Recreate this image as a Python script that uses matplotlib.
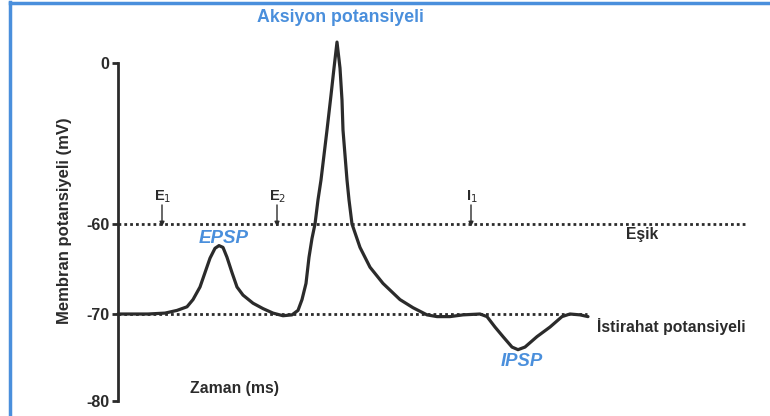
import numpy as np
import matplotlib
matplotlib.use("Agg")
from matplotlib import pyplot as plt
from matplotlib.lines import Line2D

# time (arbitrary units) and membrane potential (mV)
zaman = [0, 30, 47, 59, 69, 75, 82, 87, 92, 97, 101, 105, 109, 114, 119, 125,
         135, 145, 155, 165, 174, 180, 184, 188, 191, 194, 197, 200, 203, 206,
         209, 213, 216, 219, 222, 224, 225, 227, 229, 231, 234, 242, 252, 265,
         282, 295, 309, 319, 332, 345, 362, 369, 377, 385, 394, 400, 407, 419,
         432, 444, 452, 462, 470]
potansiyel = [-70, -70, -69.9, -69.6, -69.2, -68.4, -67.0, -65.4, -63.8, -62.7,
              -62.4, -62.6, -63.7, -65.4, -67.0, -67.9, -68.8, -69.4, -69.9,
              -70.2, -70.1, -69.6, -68.4, -66.6, -63.7, -61.6, -60, -51, -43.6,
              -34.3, -25, -12, -1.9, 7.8, -1.9, -13.8, -25, -34.3, -43.6, -51,
              -60, -62.6, -64.8, -66.6, -68.4, -69.3, -70.1, -70.3, -70.3, -70.1,
              -70.0, -70.3, -71.5, -72.6, -73.8, -74.1, -73.8, -72.6, -71.5,
              -70.3, -70.0, -70.1, -70.3]

yticks = [0, -60, -70, -80]
esik = -60
istirahat = -70
uyaranlar = ["E$_1$", "E$_2$", "I$_1$"]
uyaran_zaman = [44, 159, 353]

BLUE = "#4a8fdc"
DARK = "#2b2b2b"

# non-linear y scale (pixel rows of the original axis)
V_PTS = [-80, -70, -60, 0]
P_PTS = [-401, -314, -224, -63]
S_LO = 87 / 10
S_HI = 161 / 60

def fwd(v):
    v = np.asarray(v, dtype=float)
    t = np.interp(v, V_PTS, P_PTS)
    t = np.where(v < -80, -401 + (v + 80) * S_LO, t)
    t = np.where(v > 0, -63 + v * S_HI, t)
    return t

def inv(t):
    t = np.asarray(t, dtype=float)
    v = np.interp(t, P_PTS, V_PTS)
    v = np.where(t < -401, -80 + (t + 401) / S_LO, v)
    v = np.where(t > -63, (t + 63) / S_HI, v)
    return v

fig = plt.figure(figsize=(7.7, 4.16), dpi=100)
plt.rcParams['font.family'] = ['Liberation Sans', 'DejaVu Sans']
ax = fig.add_axes([0, 0, 1, 1])
ax.set_yscale('function', functions=(fwd, inv))
ax.set_xlim(-118, 652)
ax.set_ylim(-80 - 15 / S_LO, 63 / S_HI)

for s in ['top', 'right', 'bottom']:
    ax.spines[s].set_visible(False)
ax.spines['left'].set_position(('data', 0))
ax.spines['left'].set_bounds(-80, 0)
ax.spines['left'].set_linewidth(2)
ax.spines['left'].set_color(DARK)
ax.set_xticks([])
ax.set_yticks(yticks)
ax.set_yticklabels([str(v) for v in yticks], fontsize=11.5, fontweight='bold', color=DARK)
ax.tick_params(axis='y', direction='out', length=4, width=2, color=DARK, pad=2)
ax.yaxis.set_minor_locator(plt.NullLocator())
ax.patch.set_alpha(0)

ax.plot([0, 627], [esik, esik], linestyle=(0, (1, 1.1)), color=DARK, lw=2)
ax.plot([0, 469], [istirahat, istirahat], linestyle=(0, (1, 1.1)), color=DARK, lw=2)
ax.plot(zaman, potansiyel, color=DARK, lw=2.3, solid_joinstyle='round',
        solid_capstyle='round', clip_on=False)

for lab, t in zip(uyaranlar, uyaran_zaman):
    ax.annotate("", xy=(t, -60.3), xytext=(t, -52.9),
                arrowprops=dict(arrowstyle='-|>', color=DARK, lw=1, mutation_scale=7,
                                shrinkA=0, shrinkB=0))
    ax.text(t + 1, -49.9, lab, ha='center', va='center', fontsize=10.5,
            fontweight='bold', color=DARK)

ax.text(222, 16.8, "Aksiyon potansiyeli", ha='center', va='center', fontsize=12.8,
        fontweight='bold', color=BLUE)
ax.text(106, -61.6, "EPSP", ha='center', va='center', fontsize=13.5,
        fontweight='bold', style='italic', color=BLUE)
ax.text(404, -75.5, "IPSP", ha='center', va='center', fontsize=13.3,
        fontweight='bold', style='italic', color=BLUE)
ax.text(524, -61.2, "Eşik", ha='center', va='center', fontsize=11.3, fontweight='bold',
        color=DARK)
ax.text(479, -71.4, "İstirahat potansiyeli", ha='left', va='center', fontsize=11.3,
        fontweight='bold', color=DARK)
ax.text(116, -78.6, "Zaman (ms)", ha='center', va='center', fontsize=11.3,
        fontweight='bold', color=DARK)
fig.text(65 / 770, 1 - 221 / 416, "Membran potansiyeli (mV)", rotation=90, ha='center',
         va='center', fontsize=12, fontweight='bold', color=DARK)

# blue frame on left and top
fig.add_artist(Line2D([10 / 770, 10 / 770], [0, 1 - 2 / 416], color=BLUE, lw=2.5))
fig.add_artist(Line2D([10 / 770, 1], [1 - 2.5 / 416, 1 - 2.5 / 416], color=BLUE, lw=2.5))

fig.savefig("out.png", dpi=100)
